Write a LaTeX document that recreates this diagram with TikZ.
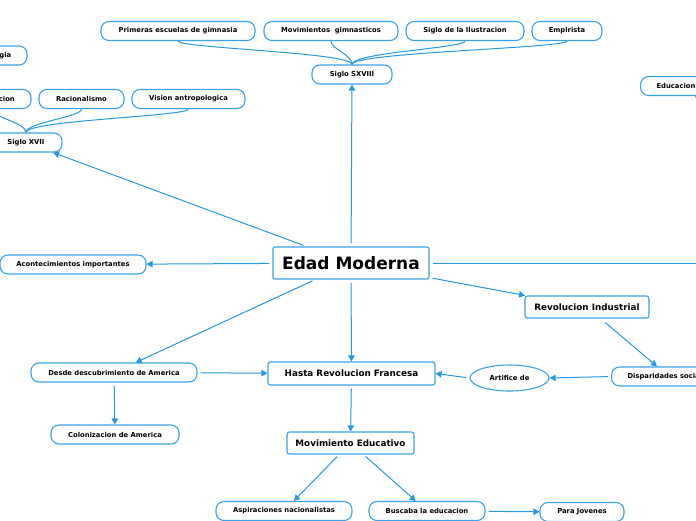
\documentclass[tikz,border=0pt]{standalone}
\usepackage{fontspec}
\setmainfont{DejaVu Sans}
\usetikzlibrary{arrows.meta,shapes.geometric,calc,backgrounds}
\definecolor{lnk}{RGB}{38,152,226}
\definecolor{bdr}{RGB}{58,162,230}
\tikzset{
  smallbox/.style={draw=bdr, line width=1.1pt, rounded corners=8pt, fill=white,
    font=\fontsize{6.8}{8}\selectfont\bfseries, minimum height=19pt, inner sep=0pt},
  midbox/.style={draw=bdr, line width=1.1pt, rounded corners=2.5pt, fill=white,
    font=\fontsize{8.8}{10}\selectfont\bfseries, minimum height=22pt, inner sep=0pt},
  bigbox/.style={draw=bdr, line width=1.1pt, rounded corners=2pt, fill=white,
    font=\fontsize{17}{20}\selectfont\bfseries, minimum height=32pt, inner sep=0pt},
  ovalbox/.style={draw=bdr, line width=1.1pt, ellipse, fill=white,
    font=\fontsize{6.8}{8}\selectfont\bfseries, inner sep=0pt},
  arr/.style={draw=lnk, line width=1pt, shorten <=3pt, -{Triangle[length=6pt,width=6.5pt]}},
  link/.style={draw=lnk, line width=1pt},
}
\begin{document}
\begin{tikzpicture}[x=1pt,y=-1pt]
\useasboundingbox (0,0) rectangle (696,520);

\node[smallbox, minimum width=154] (prim) at (178,31) {Primeras escuelas de gimnasia};
\node[smallbox, minimum width=134] (movg) at (331,31) {Movimientos~ gimnasticos};
\node[smallbox, minimum width=118] (ilus) at (465,31) {Siglo de la Ilustracion};
\node[smallbox, minimum width=70] (emp) at (567,31) {Empirista};
\node[smallbox, minimum width=80] (s18) at (352,74.5) {Siglo SXVIII};
\node[smallbox, minimum width=72] (ped) at (-9,55.5) {Pedagogia};
\node[smallbox, minimum width=80] (cion) at (-9,99) {Observacion};
\node[smallbox, minimum width=85] (rac) at (81.5,99) {Racionalismo};
\node[smallbox, minimum width=113] (vis) at (188.5,99) {Vision antropologica};
\node[smallbox, minimum width=72] (s17) at (26,142.5) {Siglo XVII};
\node[smallbox, anchor=west, text width=78pt, align=left, inner xsep=16pt] (edu) at (640,86) {Educacion};
\node[smallbox, minimum width=146] (acon) at (73,264.5) {Acontecimientos importantes};
\node[bigbox, minimum width=156] (edad) at (351,263) {Edad Moderna};
\node[midbox, minimum width=124] (revi) at (587,307) {Revolucion Industrial};
\node[smallbox, anchor=west, inner xsep=16pt] (disp) at (611,376.5) {Disparidades sociales};
\node[ovalbox, minimum width=79, minimum height=26] (art) at (509.5,378) {Artifice de};
\node[midbox, minimum width=167, minimum height=23] (hasta) at (351.5,373.5) {Hasta Revolucion Francesa};
\node[smallbox, minimum width=166] (desde) at (114,372.5) {Desde descubrimiento de America};
\node[smallbox, minimum width=128] (colo) at (115,434.5) {Colonizacion de America};
\node[midbox, minimum width=127] (movi) at (350.5,443) {Movimiento Educativo};
\node[smallbox, minimum width=136] (asp) at (284,511) {Aspiraciones nacionalistas};
\node[smallbox, minimum width=116] (bus) at (427,511) {Buscaba la educacion};
\node[smallbox, minimum width=84] (para) at (582,512) {Para Jovenes};
\coordinate (offr) at (730,263);
\coordinate (offe) at (760,140);

\begin{scope}[on background layer]
\draw[link] (prim.south) .. controls +(0,7) and +(0,-12) .. (s18.north);
\draw[link] (movg.south) .. controls +(0,8) and +(0,-10) .. (s18.north);
\draw[link] (ilus.south) .. controls +(0,7) and +(0,-12) .. (s18.north);
\draw[link] (emp.south) .. controls +(0,7) and +(0,-12) .. (s18.north);
\draw[link] (rac.south) .. controls +(0,8) and +(0,-10) .. (s17.north);
\draw[link] (vis.south) .. controls +(0,7) and +(0,-12) .. (s17.north);
\draw[link] (cion.south) .. controls +(0,8) and +(0,-10) .. (s17.north);
\draw[link] (edu.south) .. controls +(0,6) and +(-20,-10) .. (offe);
\end{scope}

\draw[arr] (edad) -- (s18);
\draw[arr] (edad) -- (s17);
\draw[arr] (edad) -- (acon);
\draw[link, shorten <=3pt] (edad) -- (offr);
\draw[arr] (edad) -- (revi);
\draw[arr] (edad) -- (hasta);
\draw[arr] (edad) -- (desde);
\draw[arr] (desde) -- (hasta);
\draw[arr] (desde) -- (colo);
\draw[arr] ($(revi.south)+(16,2)$) -- ($(disp.north west)+(46,0)$);
\draw[arr] (disp.west) -- (art.east);
\draw[arr] (art.west) -- (hasta.east);
\draw[arr] (hasta) -- (movi);
\draw[arr] (movi) -- (asp);
\draw[arr] (movi) -- (bus);
\draw[arr] (bus) -- (para);
\end{tikzpicture}
\end{document}
